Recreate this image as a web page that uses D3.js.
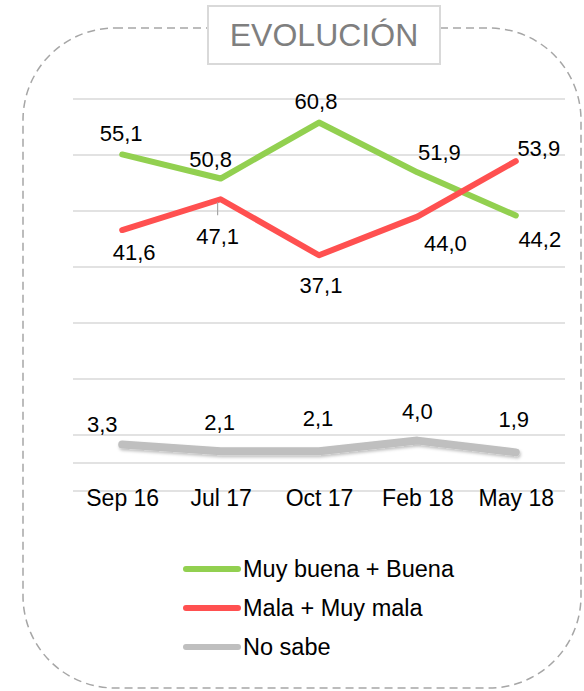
<!DOCTYPE html>
<html>
<head>
<meta charset="utf-8">
<script src="https://cdn.jsdelivr.net/npm/d3@7"></script>
<style>
  body { margin: 0; background: #fff; }
  svg { display: block; font-family: "Liberation Sans", Arial, sans-serif; }
</style>
</head>
<body>
<script>
// chart data
var periods = ["Sep 16", "Jul 17", "Oct 17", "Feb 18", "May 18"];
var buena = [55.1, 50.8, 60.8, 51.9, 44.2];
var mala = [41.6, 47.1, 37.1, 44.0, 53.9];
var noSabe = [3.3, 2.1, 2.1, 4.0, 1.9];
var seriesNames = ["Muy buena + Buena", "Mala + Muy mala", "No sabe"];
var gridValues = [65, 55, 45, 35, 25, 15, 5, 0, -5];

// label nudges (dx, dy from the point), like the excel labels
var buenaNudge = [[-1, -13], [-10, -12], [-3, -14], [22, -12], [24, 32]];
var malaNudge = [[12, 30], [-3, 45], [2, 38], [28, 34], [23, -5]];
var noSabeNudge = [[-20, -13], [-1, -21], [-1, -25], [0, -22], [-2, -25]];

var width = 584, height = 691;

var svg = d3.select("body")
    .append("svg")
    .attr("width", width)
    .attr("height", height);

var defs = svg.append("defs");
var shadow = defs.append("filter")
    .attr("id", "shadow")
    .attr("x", "-10%").attr("y", "-200%")
    .attr("width", "120%").attr("height", "500%");
shadow.append("feDropShadow")
    .attr("dx", 1).attr("dy", 2)
    .attr("stdDeviation", 1.5)
    .attr("flood-color", "#000")
    .attr("flood-opacity", 0.25);

// dashed rounded frame
svg.append("rect")
    .attr("x", 23).attr("y", 28)
    .attr("width", 558).attr("height", 660)
    .attr("rx", 92).attr("ry", 92)
    .attr("fill", "none")
    .attr("stroke", "#a6a6a6")
    .attr("stroke-width", 1.5)
    .attr("stroke-dasharray", "8,5");

// title box
svg.append("rect")
    .attr("x", 208).attr("y", 6)
    .attr("width", 232).attr("height", 58)
    .attr("fill", "#fff")
    .attr("stroke", "#d9d9d9")
    .attr("stroke-width", 2);
svg.append("text")
    .attr("x", 324).attr("y", 46)
    .attr("text-anchor", "middle")
    .style("font-size", "32px")
    .style("fill", "#7f7f7f")
    .text("EVOLUCIÓN");

var x = d3.scalePoint()
    .domain(periods)
    .range([73, 565])
    .padding(0.5);

var y = d3.scaleLinear()
    .domain([0, 65])
    .range([463, 99]);

// gridlines
svg.append("g")
    .selectAll("line")
    .data(gridValues)
    .enter()
    .append("line")
    .attr("x1", 73).attr("x2", 565)
    .attr("y1", function (d) { return y(d); })
    .attr("y2", function (d) { return y(d); })
    .attr("stroke", "#d9d9d9")
    .attr("stroke-width", 1.5);

// x axis labels
var xAxis = d3.axisBottom(x).tickSize(0).tickPadding(0);
var xg = svg.append("g")
    .attr("transform", "translate(0,506)")
    .call(xAxis);
xg.select(".domain").remove();
xg.selectAll("text")
    .attr("dy", 0)
    .style("font-size", "23px")
    .style("font-family", "'Liberation Sans', Arial, sans-serif")
    .style("fill", "#000");

var line = d3.line()
    .x(function (d, i) { return x(periods[i]); })
    .y(function (d) { return y(d); });

var series = [
    { name: seriesNames[0], values: buena, color: "#92d050", width: 6, nudge: buenaNudge },
    { name: seriesNames[1], values: mala, color: "#ff5050", width: 6, nudge: malaNudge },
    { name: seriesNames[2], values: noSabe, color: "#bfbfbf", width: 8, nudge: noSabeNudge }
];

// draw no sabe first, then red, then green on top of red? green sits under red at the crossing
var drawOrder = [2, 0, 1];
drawOrder.forEach(function (k) {
    var s = series[k];
    svg.append("path")
        .datum(s.values)
        .attr("d", line)
        .attr("fill", "none")
        .attr("stroke", s.color)
        .attr("stroke-width", s.width)
        .attr("stroke-linecap", "round")
        .attr("stroke-linejoin", "round")
        .attr("filter", k == 2 ? "url(#shadow)" : null);
});

// small leader line for the 47,1 label
svg.append("line")
    .attr("x1", x(periods[1]) - 3).attr("x2", x(periods[1]) - 3)
    .attr("y1", y(mala[1]) + 3).attr("y2", y(mala[1]) + 16)
    .attr("stroke", "#a6a6a6")
    .attr("stroke-width", 1.2);

// value labels
series.forEach(function (s) {
    svg.append("g")
        .selectAll("text")
        .data(s.values)
        .enter()
        .append("text")
        .attr("x", function (d, i) { return x(periods[i]) + s.nudge[i][0]; })
        .attr("y", function (d, i) { return y(d) + s.nudge[i][1]; })
        .attr("text-anchor", "middle")
        .style("font-size", "22px")
        .style("fill", "#000")
        .text(function (d) { return d.toFixed(1).replace(".", ","); });
});

// legend
var legend = svg.append("g")
    .selectAll("g")
    .data(series)
    .enter()
    .append("g")
    .attr("transform", function (d, i) { return "translate(0," + (569 + i * 39) + ")"; });

legend.append("line")
    .attr("x1", 186).attr("x2", 238)
    .attr("y1", 0).attr("y2", 0)
    .attr("stroke", function (d) { return d.color; })
    .attr("stroke-width", 6)
    .attr("stroke-linecap", "round");

legend.append("text")
    .attr("x", 243)
    .attr("y", 8)
    .style("font-size", "23.5px")
    .style("fill", "#000")
    .text(function (d) { return d.name; });
</script>
</body>
</html>
